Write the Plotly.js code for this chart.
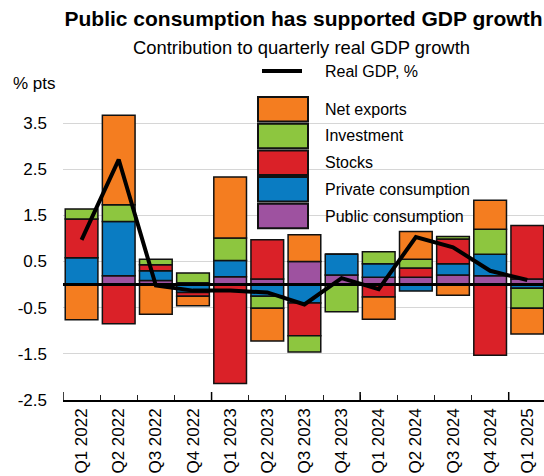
<!DOCTYPE html>
<html>
<head>
<meta charset="utf-8">
<script src="https://cdn.plot.ly/plotly-3.0.1.min.js"></script>
<style>
  html, body { margin: 0; padding: 0; background: #fff; overflow: hidden; }
  #chart { width: 544px; height: 476px; }
</style>
</head>
<body>
<div id="chart"></div>
<script>
// ---- Data ----
const categories = ['Q1 2022','Q2 2022','Q3 2022','Q4 2022','Q1 2023','Q2 2023','Q3 2023','Q4 2023','Q1 2024','Q2 2024','Q3 2024','Q4 2024','Q1 2025'];
const publicConsumption  = [0.00, 0.19, 0.09, 0.04, 0.17, 0.12, 0.50, 0.21, 0.16, 0.16, 0.21, 0.19, 0.12];
const privateConsumption = [0.58, 1.18, 0.21, -0.17, 0.35, -0.25, -0.40, 0.45, 0.29, -0.14, 0.24, 0.47, -0.08];
const stocks             = [0.84, -0.85, 0.13, -0.08, -2.14, 0.85, -0.71, 0.00, -0.27, 0.20, 0.54, -1.53, 1.16];
const investment         = [0.22, 0.36, 0.12, 0.21, 0.49, -0.26, -0.35, -0.59, 0.26, 0.19, 0.05, 0.54, -0.43];
const netExports         = [-0.76, 1.94, -0.64, -0.21, 1.32, -0.71, 0.58, 0.00, -0.48, 0.60, -0.23, 0.63, -0.56];
const realGDP            = [0.97, 2.71, -0.02, -0.13, -0.13, -0.17, -0.43, 0.14, -0.10, 1.03, 0.81, 0.30, 0.10];

const seriesNames = ['Public consumption','Private consumption','Stocks','Investment','Net exports'];
const lineName = 'Real GDP, %';
const yTickLabels = ['-2.5','-1.5','-0.5','0.5','1.5','2.5','3.5'];
const yTickValues = [-2.5,-1.5,-0.5,0.5,1.5,2.5,3.5];
const yearBoundaries = [-0.5, 3.5, 7.5, 11.5];

// ---- Styles ----
const colors = ['#9E52A0', '#0A7CC2', '#DA2128', '#8DC63F', '#F47D20'];
const FONT = 'Liberation Sans, Arial, sans-serif';
const W = 544, H = 476;
const M = {l: 63, r: 0, t: 100, b: 76};
const plotW = W - M.l - M.r, plotH = H - M.t - M.b;
const px = x => (x - M.l) / plotW;          // page pixel -> paper x
const py = y => (H - M.b - y) / plotH;      // page pixel -> paper y

const values = [publicConsumption, privateConsumption, stocks, investment, netExports];

const traces = values.map((v, i) => ({
  type: 'bar',
  name: seriesNames[i],
  x: categories,
  y: v,
  marker: {color: colors[i], line: {color: '#111', width: 1.5}},
  showlegend: false,
  hoverinfo: 'x+y+name'
}));
traces.push({
  type: 'scatter',
  mode: 'lines',
  name: lineName,
  x: categories,
  y: realGDP,
  line: {color: '#000', width: 4},
  showlegend: false
});

// ---- Manual legend (large swatches) ----
const shapes = [];
const annotations = [];
const legendOrder = [4, 3, 2, 1, 0];  // Net exports at top ... Public consumption at bottom
const boxLeft = 258, boxRight = 308, textLeft = 323;
const boxTop0 = 97, boxH = 24.5, pitch = 26.7;
legendOrder.forEach((si, k) => {
  const top = boxTop0 + k * pitch;
  shapes.push({
    type: 'rect', xref: 'paper', yref: 'paper', layer: 'above',
    x0: px(boxLeft), x1: px(boxRight), y0: py(top + boxH), y1: py(top),
    fillcolor: colors[si], line: {color: '#111', width: 2}
  });
  annotations.push({
    xref: 'paper', yref: 'paper', x: px(textLeft), y: py(top + boxH / 2),
    xanchor: 'left', yanchor: 'middle', showarrow: false,
    text: seriesNames[si], font: {family: FONT, size: 16, color: '#000'}
  });
});
shapes.push({
  type: 'line', xref: 'paper', yref: 'paper', layer: 'above',
  x0: px(262), x1: px(302), y0: py(71), y1: py(71),
  line: {color: '#000', width: 4}
});
annotations.push({
  xref: 'paper', yref: 'paper', x: px(textLeft), y: py(71),
  xanchor: 'left', yanchor: 'middle', showarrow: false,
  text: lineName, font: {family: FONT, size: 16, color: '#000'}
});

// Long ticks at year boundaries
yearBoundaries.forEach(b => {
  shapes.push({
    type: 'line', xref: 'x', yref: 'paper', layer: 'above',
    x0: b, x1: b, y0: 0, y1: 8 / plotH,
    line: {color: '#000', width: 1.5}
  });
});

// Subtitle and unit label
annotations.push({
  xref: 'paper', yref: 'paper', x: px(301), y: py(47.5),
  xanchor: 'center', yanchor: 'middle', showarrow: false,
  text: 'Contribution to quarterly real GDP growth',
  font: {family: FONT, size: 18.4, color: '#000'}
});
annotations.push({
  xref: 'paper', yref: 'paper', x: px(11), y: py(83),
  xanchor: 'left', yanchor: 'middle', showarrow: false,
  text: '% pts', font: {family: FONT, size: 17, color: '#000'}
});

const layout = {
  width: W, height: H,
  margin: M,
  paper_bgcolor: '#fff', plot_bgcolor: '#fff',
  barmode: 'relative',
  bargap: 0.12,
  font: {family: FONT, color: '#000'},
  title: {
    text: '<b>Public consumption has supported GDP growth</b>',
    font: {family: FONT, size: 21, color: '#000'},
    xref: 'paper', x: 0.5, xanchor: 'center',
    yref: 'container', y: 1 - 19 / H, yanchor: 'middle'
  },
  xaxis: {
    type: 'category',
    range: [-0.5, 12.45],
    tickangle: -90,
    tickfont: {family: FONT, size: 17, color: '#000'},
    ticks: 'inside', ticklen: 5, tickwidth: 1, tickcolor: '#222',
    tickson: 'boundaries',
    showline: true, linecolor: '#000', linewidth: 1.5,
    showgrid: false, zeroline: false, fixedrange: true
  },
  yaxis: {
    range: [-2.5, 4.0],
    tickmode: 'array', tickvals: yTickValues, ticktext: yTickLabels,
    tickfont: {family: FONT, size: 17, color: '#000'},
    ticks: '', ticklabelstandoff: 15,
    showgrid: true, gridcolor: '#d6d6d6', gridwidth: 1,
    zeroline: true, zerolinecolor: '#000', zerolinewidth: 3,
    zerolinelayer: 'above traces',
    showline: false, fixedrange: true
  },
  shapes: shapes,
  annotations: annotations
};

Plotly.newPlot('chart', traces, layout, {displayModeBar: false, staticPlot: true});
</script>
</body>
</html>
